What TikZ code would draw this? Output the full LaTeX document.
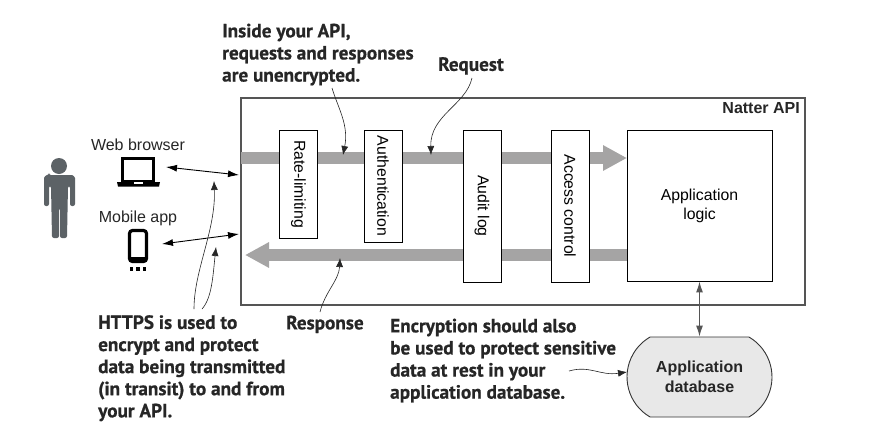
\documentclass[tikz,border=0pt]{standalone}
\usepackage{fontspec}
\setmainfont{Liberation Sans}
\newfontfamily\notefont{PT Sans}[BoldFeatures={FakeBold=0.6}]
\usetikzlibrary{arrows.meta}
\usetikzlibrary{positioning}
\usetikzlibrary{shapes.misc}
\definecolor{bandgray}{HTML}{A5A4A4}
\definecolor{framegray}{HTML}{555555}
\definecolor{mangray}{HTML}{5C6266}
\definecolor{dbgray}{HTML}{E8E8E8}
\begin{document}
\begin{tikzpicture}[x=1pt, y=-1pt]
\tikzstyle{stage}=[draw=black, fill=white, line width=0.9pt, minimum width=38pt, inner sep=0pt,
                        font=\fontsize{15.8}{19}\selectfont];
\tikzstyle{band}=[color=bandgray, line width=12pt, -{Triangle[length=24pt, width=24pt]}];
\tikzstyle{note}=[anchor=north west, inner sep=0pt, align=left, text=black!85,
                        font=\notefont\bfseries\fontsize{19.2}{22.1}\selectfont];
\tikzstyle{lab}=[inner sep=0pt, align=center, text=black!85, font=\fontsize{16}{19}\selectfont];
\tikzstyle{link}=[black, line width=0.9pt, {Latex[length=11pt, width=7pt]}-{Latex[length=11pt, width=7pt]}];
\tikzstyle{call}=[black!85, line width=0.6pt, -{Latex[length=9pt, width=7pt]}];
\useasboundingbox (0,0) rectangle (888,434);
\fill[white] (0,0) rectangle (888,434);
% outer box
\node[draw=framegray, line width=1.1pt, minimum width=564pt, minimum height=207pt, inner sep=0pt] (api) at (523,201.5) {};
\node[inner sep=0pt, anchor=north east, text=black!85, font=\bfseries\fontsize{16}{19}\selectfont] (apiname) at (800,102) {Natter API};
% request and response bands
\coordinate (reqstart) at (241,158);
\coordinate (reqend) at (627,158);
\coordinate (respstart) at (627,255);
\coordinate (respend) at (245,255);
\draw[band] (reqstart) -- (reqend);
\draw[band] (respstart) -- (respend);
% stages
\node[stage, minimum height=108pt] (rate) at (298.5,184) {\rotatebox{-90}{Rate-limiting}};
\node[stage, minimum height=112pt] (auth) at (383,186) {\rotatebox{-90}{Authentication}};
\node[stage, minimum height=152pt] (audit) at (482,206) {\rotatebox{-90}{Audit log}};
\node[stage, minimum height=152pt] (access) at (570,206) {\rotatebox{-90}{Access control}};
\node[stage, minimum width=145pt, minimum height=151pt, align=center] (logic) at (699.5,205.5) {Application\\logic};
% database
\node[rounded rectangle, rounded rectangle arc length=120, draw=black!80, fill=dbgray, line width=0.9pt,
      minimum width=145pt, minimum height=80pt, inner sep=0pt, align=center, text=black!85,
      font=\bfseries\fontsize{16}{19.5}\selectfont] (db) at (699.5,377) {Application\\database};
\draw[link, framegray, line width=1.2pt] (logic.south) -- (db.north);
% person
\fill[mangray] (59,166) circle (8);
\fill[mangray, rounded corners=2pt] (49,175) -- (70,175) .. controls (73,175) and (75,177) .. (75,180)
  -- (75,206) -- (70,206) -- (70,186) -- (68,186) -- (67,238) -- (60,238) -- (60,208) -- (59,208) -- (59,238)
  -- (52,238) -- (51,186) -- (49,186) -- (49,206) -- (44,206) -- (44,180) .. controls (44,177) and (46,175) .. (49,175) -- cycle;
% laptop
\node[draw=black, line width=3pt, minimum width=31pt, minimum height=23pt, inner sep=0pt] (laptop) at (138,170) {};
\fill[black] (117,182) -- (160,182) -- (159,186.5) -- (118,186.5) -- cycle;
\fill[white] (134,182) rectangle (143,184);
\node[lab, above=6pt of laptop.north] (web) {Web browser};
% phone
\node[draw=black, fill=white, line width=3.2pt, rounded corners=3pt, minimum width=17pt, minimum height=31pt, inner sep=0pt] (phone) at (138,246) {};
\fill[black] (129,257) rectangle (147,262);
\foreach \i in {0,1,2}
{\fill[black] (129.5+\i*6.7,267) rectangle +(3.5,3.5);}
\node[lab, above=3pt of phone.north] (mobile) {Mobile app};
% links
\coordinate (webend) at (166,167);
\coordinate (webapi) at (239,175);
\coordinate (mobend) at (162,244);
\coordinate (mobapi) at (239,234);
\draw[link] (webend) -- (webapi);
\draw[link] (mobend) -- (mobapi);
% notes
\node[note] (https) at (98,315) {HTTPS is used to\\encrypt and protect\\data being transmitted\\(in transit) to and from\\your API.};
\node[note] (inside) at (222,23.5) {Inside your API,\\requests and responses\\are unencrypted.};
\node[note] (request) at (438,57) {Request};
\node[note] (response) at (286,315.5) {Response};
\node[note] (encrypt) at (390,318.5) {Encryption should also\\be used to protect sensitive\\data at rest in your\\application database.};
% callouts
\coordinate (c1) at (194,309);
\coordinate (c1end) at (214,181);
\coordinate (c2) at (202,309);
\coordinate (c2end) at (216,247);
\coordinate (c3) at (332,88);
\coordinate (c3end) at (343,155);
\coordinate (c4) at (472,78);
\coordinate (c4end) at (431,155);
\coordinate (c5) at (320,312);
\coordinate (c5end) at (340,258);
\coordinate (c6) at (569,371);
\coordinate (c6end) at (627,372);
\draw[call] (c1) .. controls (194,270) and (216,230) .. (c1end);
\draw[call] (c2) .. controls (212,298) and (213,275) .. (c2end);
\draw[call] (c3) .. controls (338,108) and (349,125) .. (c3end);
\draw[call] (c4) .. controls (466,105) and (430,115) .. (c4end);
\draw[call] (c5) .. controls (325,292) and (339,280) .. (c5end);
\draw[call] (c6) .. controls (590,365) and (600,376) .. (c6end);
\end{tikzpicture}
\end{document}
